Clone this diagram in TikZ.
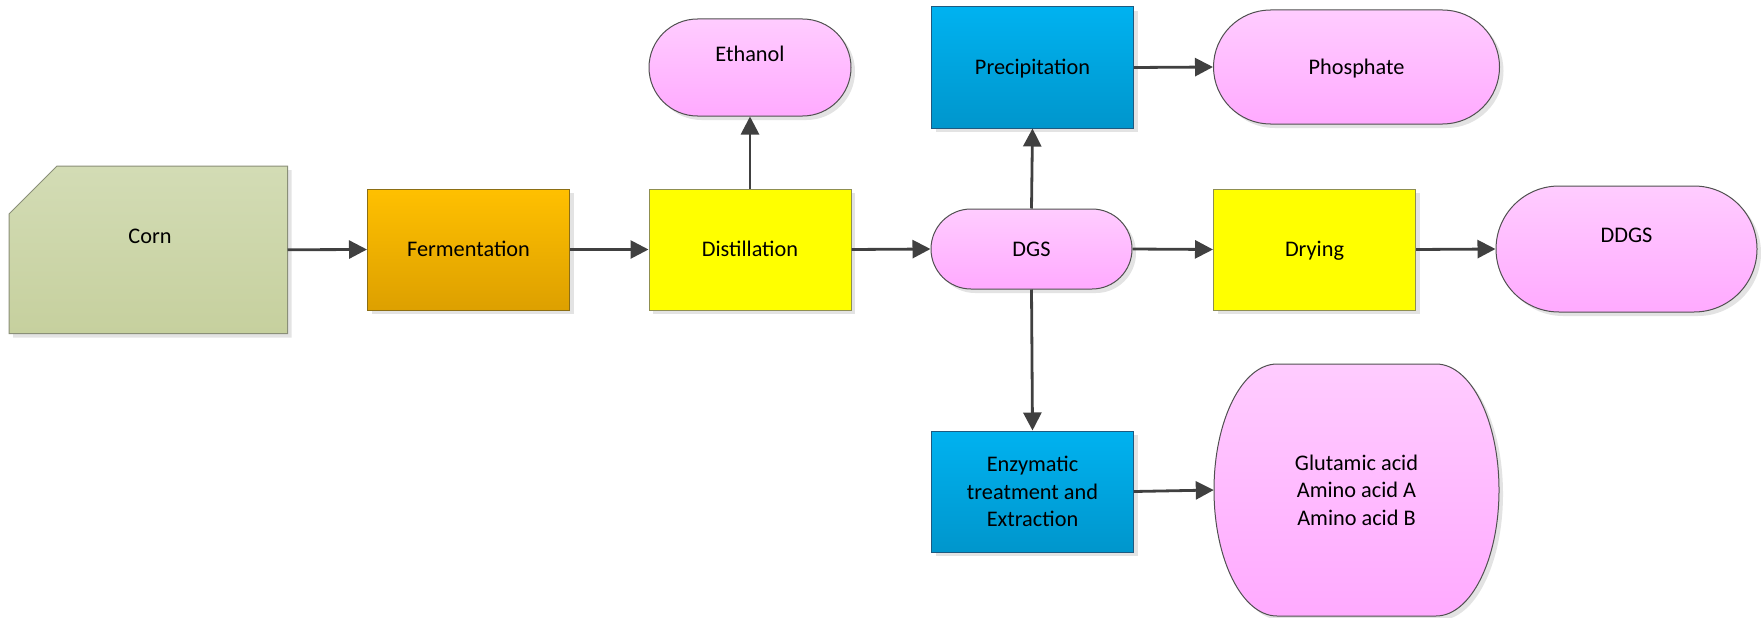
\documentclass[tikz,border=0pt]{standalone}
\usepackage{fontspec}
\setmainfont{Carlito}
\usetikzlibrary{arrows.meta,shadows}
\definecolor{cornTop}{HTML}{D3DCB5}
\definecolor{cornBot}{HTML}{C6D09E}
\definecolor{cornDraw}{HTML}{8A8F78}
\definecolor{fermTop}{HTML}{FFC000}
\definecolor{fermBot}{HTML}{DDA000}
\definecolor{fermDraw}{HTML}{8C6E14}
\definecolor{yelFill}{HTML}{FFFF00}
\definecolor{yelDraw}{HTML}{8F8F50}
\definecolor{bluTop}{HTML}{00B2F0}
\definecolor{bluBot}{HTML}{0096CC}
\definecolor{bluDraw}{HTML}{1E5A80}
\definecolor{pinkTop}{HTML}{FFCCFF}
\definecolor{pinkBot}{HTML}{FFAAFF}
\definecolor{pinkDraw}{HTML}{505050}
\definecolor{arrCol}{HTML}{404040}
\newcommand\diagfont{\fontsize{22.3pt}{27.5pt}\selectfont}
\tikzset{
  shad/.style={drop shadow={shadow xshift=4pt,shadow yshift=-4pt,fill=black!11,opacity=1}},
  base/.style={shad, line width=1pt, text=black, font=\diagfont, inner sep=0pt},
  oneline/.style={text height=19pt, text depth=4.5pt},
  procbox/.style={base, rectangle, minimum width=202pt, minimum height=121pt},
  yelbox/.style={procbox, oneline, fill=yelFill, draw=yelDraw},
  fermbox/.style={procbox, oneline, top color=fermTop, bottom color=fermBot, draw=fermDraw},
  blubox/.style={procbox, top color=bluTop, bottom color=bluBot, draw=bluDraw},
  termbox/.style={base, rectangle, top color=pinkTop, bottom color=pinkBot, draw=pinkDraw},
  anchorbox/.style={rectangle, draw=none, inner sep=0pt, font=\diagfont, text=black},
  lbl/.style={font=\diagfont, text=black, inner sep=0pt, oneline},
  arr/.style={-{Triangle[length=18pt,width=18pt]}, line width=2.8pt, draw=arrCol},
}
\begin{document}
\begin{tikzpicture}[x=1pt,y=-1pt]
\useasboundingbox (0,0) rectangle (1761,618);
% Corn
\path[shad, top color=cornTop, bottom color=cornBot, draw=cornDraw, line width=1pt]
  (9,214) -- (57,166) -- (287.5,166) -- (287.5,333.5) -- (9,333.5) -- cycle;
\node[anchorbox, minimum width=278.5pt, minimum height=167.5pt] (corn) at (148.25,249.75) {};
\node[lbl] (corntxt) at (150,236.5) {Corn};
% process boxes
\node[fermbox] (ferm) at (468.5,249.5) {Fermentation};
\node[yelbox] (dist) at (750,249.5) {Distillation};
\node[blubox, oneline] (prec) at (1032.5,67.5) {Precipitation};
\node[yelbox] (dry) at (1314.5,249.5) {Drying};
\node[blubox, align=center] (enz) at (1032.5,491.5) {Enzymatic\\treatment and\\Extraction};
% terminators
\node[termbox, minimum width=202pt, minimum height=97pt, rounded corners=48.5pt] (eth) at (750,67.5) {};
\node[lbl] (ethtxt) at (750,54) {Ethanol};
\node[termbox, oneline, minimum width=201pt, minimum height=80pt, rounded corners=40pt] (dgs) at (1031.5,249) {DGS};
\node[termbox, oneline, minimum width=286pt, minimum height=114pt, rounded corners=57pt] (phos) at (1356.5,67) {Phosphate};
\node[termbox, minimum width=261pt, minimum height=126pt, rounded corners=63pt] (ddgs) at (1626.5,249) {};
\node[lbl] (ddgstxt) at (1626.5,235) {DDGS};
% Glutamic acid shape
\path[shad, top color=pinkTop, bottom color=pinkBot, draw=pinkDraw, line width=1pt]
  (1277,364) -- (1436,364) arc[start angle=90, end angle=-90, x radius=63pt, y radius=126pt]
  -- (1277,616) arc[start angle=270, end angle=90, x radius=63pt, y radius=126pt] -- cycle;
\node[anchorbox, minimum width=285pt, minimum height=252pt, align=center] (glu) at (1356.5,490)
  {Glutamic acid\\Amino acid A\\Amino acid B};
% connectors
\draw[arr] (corn.east) -- (ferm.west);
\draw[arr] (ferm.east) -- (dist.west);
\draw[arr] (dist.north) -- (eth.south);
\draw[arr] (dist.east) -- (dgs.west);
\draw[arr] (dgs.north) -- (prec.south);
\draw[arr] (prec.east) -- (phos.west);
\draw[arr] (dgs.east) -- (dry.west);
\draw[arr] (dry.east) -- (ddgs.west);
\draw[arr] (dgs.south) -- (enz.north);
\draw[arr] (enz.east) -- (glu.west);
\end{tikzpicture}
\end{document}
